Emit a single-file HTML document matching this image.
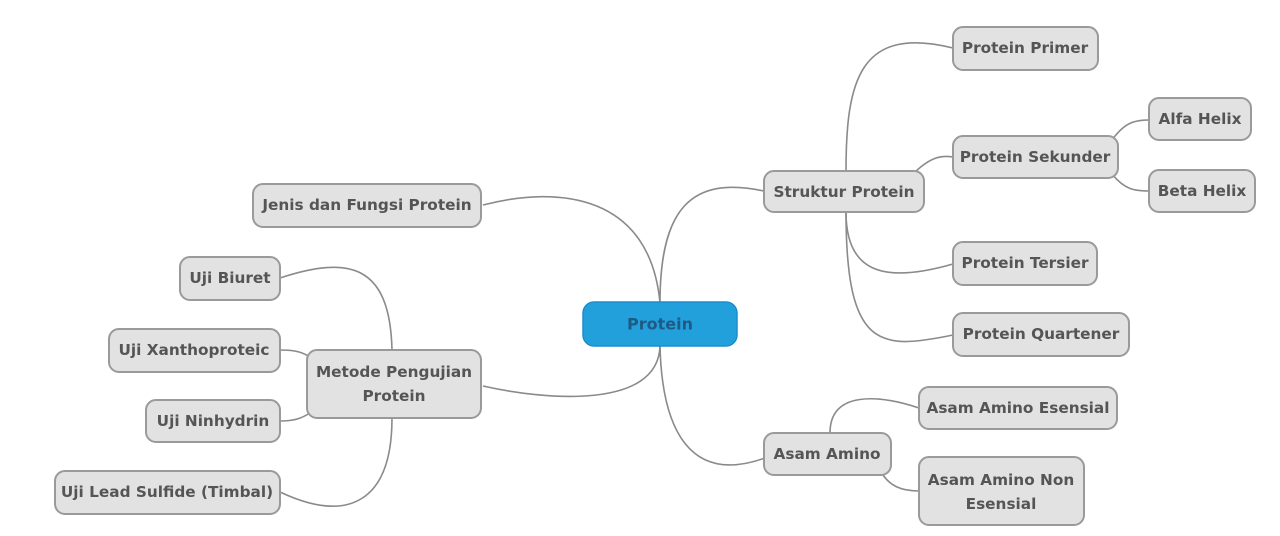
<!DOCTYPE html>
<html><head><meta charset="utf-8"><style>
html,body{margin:0;padding:0;background:#fff}
svg{display:block}
text{font-family:"DejaVu Sans","Liberation Sans",sans-serif;font-weight:bold;font-size:15.3px;fill:#555;text-anchor:middle;dominant-baseline:central}
.b{fill:#e2e2e2;stroke:#9a9a9a;stroke-width:2}
.c{fill:none;stroke:#8a8a8a;stroke-width:1.6}
</style></head><body>
<svg width="1280" height="536" viewBox="0 0 1280 536">
<g class="c">
<path d="M660,303 C660,210 690,175 764,191"/>
<path d="M483,205 C560,185 650,195 660,303"/>
<path d="M483,386 C545,400 658,410 660,346"/>
<path d="M660,346 C662,430 690,485 765,458"/>
<path d="M846,171 C846,80 860,25 953,48"/>
<path d="M915,172 C930,158 940,155 953,157"/>
<path d="M846,212 C846,270 880,285 953,264"/>
<path d="M846,212 C846,350 880,350 953,335"/>
<path d="M1112,140 C1125,122 1135,120 1149,120"/>
<path d="M1112,174 C1125,190 1135,191 1149,191"/>
<path d="M830,433 C830,390 880,395 919,408"/>
<path d="M883,475 C890,485 900,491 919,491"/>
<path d="M280,278 C350,255 390,265 392,350"/>
<path d="M280,350 C295,350 302,352 310,357"/>
<path d="M280,421 C295,421 302,418 310,413"/>
<path d="M280,492 C350,525 392,500 392,418"/>
</g>
<rect x="583" y="302" width="154" height="44" rx="11" fill="#21a0dc" stroke="#1b8ecb" stroke-width="1.5"/>
<text x="660" y="324" style="fill:#1f5a85;font-size:16px">Protein</text>
<rect class="b" x="764" y="171" width="160" height="41" rx="10"/><text x="844" y="192">Struktur Protein</text>
<rect class="b" x="953" y="27" width="145" height="43" rx="10"/><text x="1025" y="48">Protein Primer</text>
<rect class="b" x="953" y="136" width="165" height="42" rx="10"/><text x="1035" y="157">Protein Sekunder</text>
<rect class="b" x="1149" y="98" width="102" height="42" rx="10"/><text x="1200" y="119">Alfa Helix</text>
<rect class="b" x="1149" y="170" width="106" height="42" rx="10"/><text x="1202" y="191">Beta Helix</text>
<rect class="b" x="953" y="242" width="144" height="43" rx="10"/><text x="1025" y="263">Protein Tersier</text>
<rect class="b" x="953" y="313" width="176" height="43" rx="10"/><text x="1041" y="334">Protein Quartener</text>
<rect class="b" x="919" y="387" width="198" height="42" rx="10"/><text x="1018" y="408">Asam Amino Esensial</text>
<rect class="b" x="764" y="433" width="127" height="42" rx="10"/><text x="827" y="454">Asam Amino</text>
<rect class="b" x="919" y="457" width="165" height="68" rx="10"/><text x="1001" y="480">Asam Amino Non</text><text x="1001" y="504">Esensial</text>
<rect class="b" x="253" y="184" width="228" height="43" rx="10"/><text x="367" y="205">Jenis dan Fungsi Protein</text>
<rect class="b" x="307" y="350" width="174" height="68" rx="10"/><text x="394" y="372">Metode Pengujian</text><text x="394" y="396">Protein</text>
<rect class="b" x="180" y="257" width="100" height="43" rx="10"/><text x="230" y="278">Uji Biuret</text>
<rect class="b" x="109" y="329" width="171" height="43" rx="10"/><text x="194" y="350">Uji Xanthoproteic</text>
<rect class="b" x="146" y="400" width="134" height="42" rx="10"/><text x="213" y="421">Uji Ninhydrin</text>
<rect class="b" x="55" y="471" width="225" height="43" rx="10"/><text x="167" y="492">Uji Lead Sulfide (Timbal)</text>
</svg>
</body></html>
